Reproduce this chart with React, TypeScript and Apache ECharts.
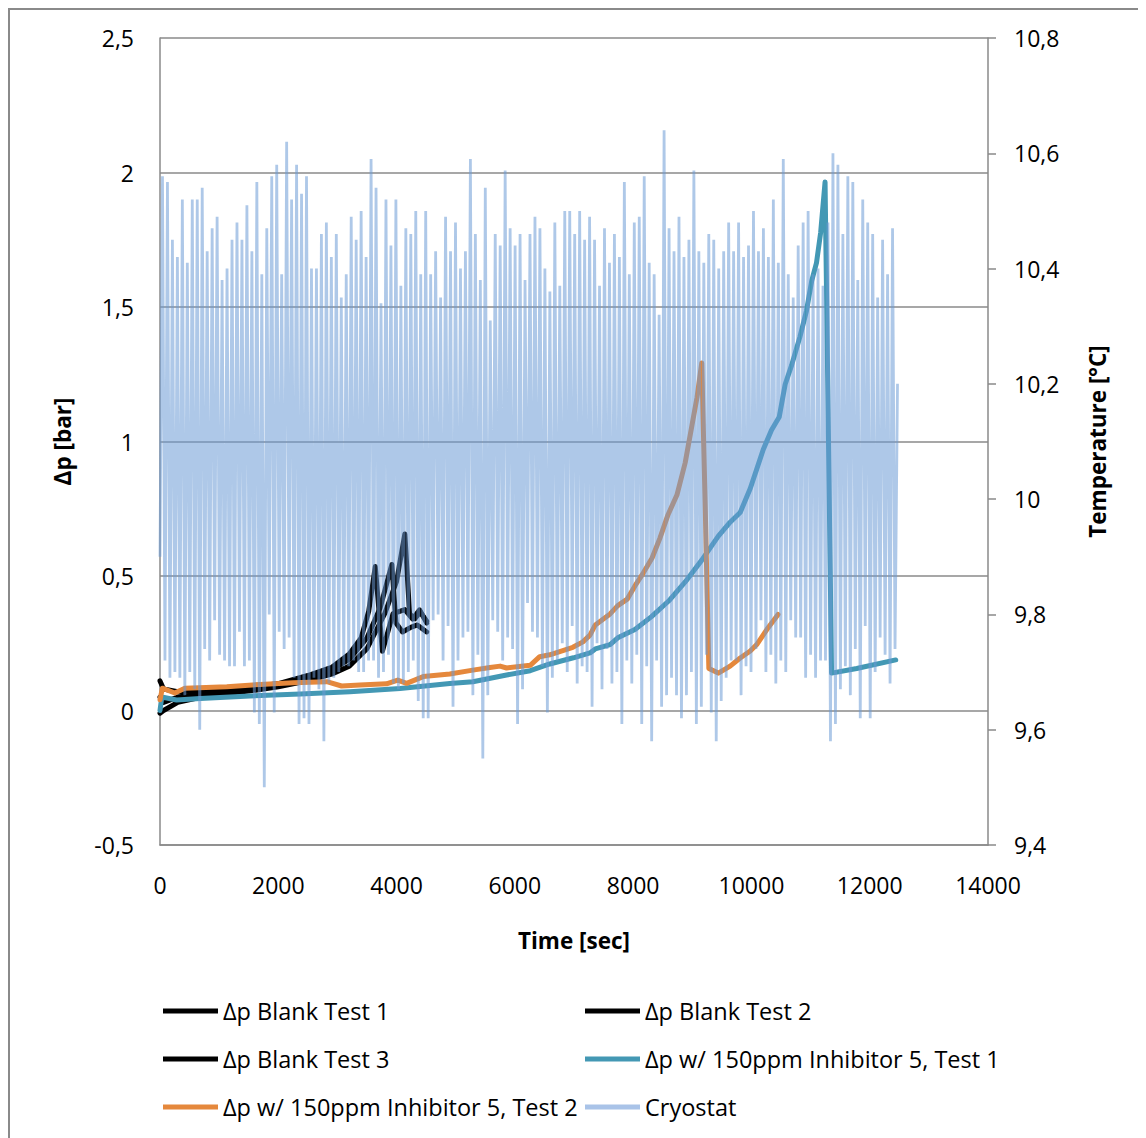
import React, { useEffect, useRef } from "react";
import * as echarts from "echarts";

// ---- data (time [s], Δp [bar]) ----
const blankTest1 = [
  [0, 0.11], [60, 0.08], [300, 0.07], [800, 0.075], [1500, 0.085], [2000, 0.1], [2500, 0.13],
  [2900, 0.16], [3200, 0.21], [3400, 0.27], [3530, 0.37], [3640, 0.535], [3760, 0.22],
  [3940, 0.36], [4140, 0.375], [4270, 0.34], [4390, 0.374], [4510, 0.325],
];
const blankTest2 = [
  [0, 0.05], [60, 0.03], [300, 0.05], [800, 0.065], [1500, 0.08], [2000, 0.095], [2500, 0.12],
  [2900, 0.15], [3200, 0.19], [3500, 0.27], [3720, 0.38], [3920, 0.543], [3990, 0.325],
  [4100, 0.292], [4240, 0.309], [4350, 0.318], [4510, 0.292],
];
const blankTest3 = [
  [0, -0.01], [60, 0.0], [300, 0.03], [800, 0.055], [1500, 0.072], [2000, 0.088], [2500, 0.11],
  [2900, 0.135], [3200, 0.165], [3500, 0.23], [3800, 0.36], [4000, 0.48], [4140, 0.656],
  [4220, 0.359], [4310, 0.341], [4400, 0.366], [4510, 0.332],
];
const inhibitorTest1 = [
  [0, 0.0], [30, 0.05], [280, 0.039], [680, 0.045], [1520, 0.054], [2370, 0.061], [3210, 0.07],
  [4060, 0.082], [4900, 0.1], [5290, 0.107], [5860, 0.132], [6260, 0.148], [6590, 0.173],
  [6990, 0.196], [7270, 0.214], [7360, 0.229], [7610, 0.245], [7740, 0.27], [8030, 0.301],
  [8310, 0.349], [8600, 0.407], [8880, 0.478], [9160, 0.559], [9440, 0.648], [9640, 0.7],
  [9810, 0.736], [9980, 0.825], [10200, 0.97], [10340, 1.043], [10470, 1.091], [10570, 1.212],
  [10680, 1.284], [10820, 1.389], [10930, 1.485], [11020, 1.598], [11100, 1.664], [11170, 1.776],
  [11245, 1.965], [11355, 0.139], [11780, 0.156], [12440, 0.188],
];
const inhibitorTest2 = [
  [0, 0.04], [40, 0.083], [250, 0.065], [420, 0.083], [1130, 0.088], [1690, 0.097], [2250, 0.103],
  [2820, 0.107], [3070, 0.091], [3380, 0.095], [3830, 0.099], [4020, 0.113], [4170, 0.101],
  [4450, 0.126], [4900, 0.136], [5290, 0.15], [5580, 0.16], [5750, 0.165], [5860, 0.158],
  [6260, 0.168], [6420, 0.2], [6590, 0.207], [6980, 0.235], [7150, 0.255], [7270, 0.28],
  [7360, 0.318], [7610, 0.359], [7740, 0.39], [7900, 0.414], [8030, 0.463], [8170, 0.511],
  [8320, 0.567], [8450, 0.639], [8590, 0.728], [8740, 0.801], [8880, 0.921], [9000, 1.067],
  [9080, 1.164], [9160, 1.292], [9220, 0.745], [9280, 0.156], [9440, 0.139], [9640, 0.165],
  [9810, 0.195], [9980, 0.221], [10090, 0.245], [10260, 0.301], [10450, 0.357],
];

// ---- cryostat temperature [°C]: alternating peaks / troughs ----
const cryoStart = 9.9;
const cryoEnd = 10.2;
const cryoEndTime = 12470;
const cryoPeaks = [
  10.56, 10.55, 10.45, 10.42, 10.52, 10.41, 10.52, 10.52, 10.54, 10.43, 10.47, 10.49, 10.38,
  10.40, 10.45, 10.48, 10.45, 10.51, 10.43, 10.55, 10.39, 10.47, 10.56, 10.58, 10.39, 10.62,
  10.52, 10.58, 10.53, 10.56, 10.40, 10.40, 10.46, 10.48, 10.42, 10.46, 10.35, 10.39, 10.49,
  10.45, 10.50, 10.42, 10.59, 10.54, 10.34, 10.52, 10.44, 10.52, 10.37, 10.47, 10.46, 10.50, 10.39,
  10.50, 10.39, 10.43, 10.35, 10.49, 10.43, 10.48, 10.40, 10.43, 10.59, 10.46, 10.38, 10.54,
  10.31, 10.46, 10.44, 10.57, 10.47, 10.44, 10.46, 10.38, 10.46, 10.49, 10.47, 10.40, 10.36,
  10.48, 10.37, 10.50, 10.50, 10.46,
  10.50, 10.45, 10.49, 10.45, 10.37, 10.47, 10.41, 10.46, 10.42, 10.55, 10.39, 10.48, 10.49,
  10.56, 10.41, 10.39, 10.32, 10.64, 10.47, 10.43, 10.49, 10.42, 10.45, 10.57, 10.43, 10.41,
  10.46, 10.45, 10.40, 10.43, 10.48,
  10.43, 10.48, 10.42, 10.44, 10.50, 10.43, 10.47, 10.42, 10.52, 10.41, 10.59, 10.39, 10.35,
  10.44, 10.48, 10.50, 10.39, 10.40, 10.37, 10.48, 10.60, 10.58, 10.46, 10.56, 10.55, 10.38,
  10.52, 10.48, 10.46, 10.35, 10.45, 10.39, 10.47,
];
const cryoTroughs = [
  9.72, 9.69, 9.70, 9.69, 9.66, 9.70, 9.67, 9.60, 9.74, 9.72, 9.79, 9.73, 9.72, 9.71, 9.71,
  9.77, 9.71, 9.72, 9.63, 9.61, 9.50, 9.80, 9.63, 9.77, 9.74, 9.76,
  9.69, 9.61, 9.62, 9.61, 9.69, 9.67, 9.58, 9.68, 9.69, 9.70, 9.71, 9.71, 9.72, 9.70, 9.70,
  9.72, 9.72, 9.69, 9.70, 9.73, 9.68, 9.67, 9.68, 9.70, 9.72, 9.65, 9.62,
  9.62, 9.79, 9.80, 9.72, 9.78, 9.64, 9.72, 9.76, 9.77, 9.66, 9.73, 9.55, 9.66, 9.79, 9.77,
  9.72, 9.76, 9.74, 9.61, 9.67, 9.82, 9.77, 9.76, 9.71, 9.63, 9.69, 9.72, 9.75, 9.70, 9.78, 9.68,
  9.71, 9.70, 9.64, 9.75, 9.67, 9.74, 9.68, 9.70, 9.61, 9.72, 9.68, 9.73, 9.61, 9.71, 9.58,
  9.72, 9.64, 9.66, 9.69, 9.66, 9.62, 9.66, 9.70, 9.61, 9.64, 9.73, 9.63, 9.58, 9.65, 9.69, 9.72,
  9.72, 9.66, 9.71, 9.70, 9.74, 9.79, 9.70, 9.73, 9.68, 9.72, 9.70, 9.79, 9.76, 9.76, 9.69,
  9.73, 9.69, 9.72, 9.72, 9.58, 9.61, 9.67, 9.71, 9.66, 9.74, 9.62, 9.78, 9.62, 9.70, 9.76,
  9.73, 9.68, 9.74,
];

const seriesNames = [
  "Δp Blank Test 1",
  "Δp Blank Test 2",
  "Δp Blank Test 3",
  "Δp w/ 150ppm Inhibitor 5, Test 1",
  "Δp w/ 150ppm Inhibitor 5, Test 2",
  "Cryostat",
];

const FONT = "Open Sans";

function buildCryo() {
  const vals: number[] = [cryoStart];
  const n = Math.min(cryoPeaks.length, cryoTroughs.length);
  for (let i = 0; i < n; i++) {
    vals.push(cryoPeaks[i]);
    vals.push(cryoTroughs[i]);
  }
  vals.push(cryoEnd);
  const step = cryoEndTime / (vals.length - 1);
  return vals.map((v, i) => [i * step, v]);
}

const fmtComma = (v: number) => String(Math.round(v * 10) / 10).replace(".", ",");
const fmtPlain = (v: number) => String(Math.round(v));

export default function App() {
  const ref = useRef<HTMLDivElement>(null);
  useEffect(() => {
    const chart = echarts.init(ref.current!, null, { renderer: "svg" });
    const pLine = (name: string, data: number[][], color: string, width: number) => ({
      name,
      type: "line",
      data,
      yAxisIndex: 0,
      showSymbol: false,
      symbol: "none",
      lineStyle: { color, width, cap: "round", join: "round" },
      itemStyle: { color },
      z: 2,
    });
    const gray = "#8a8a8a";
    const legendBase = {
      orient: "vertical",
      top: 990,
      padding: 0,
      icon: "rect",
      itemWidth: 55,
      itemHeight: 5,
      itemGap: 22,
      textStyle: { fontSize: 23.5, color: "#000", fontFamily: FONT, lineHeight: 26 },
    };
    const option = {
      animation: false,
      textStyle: { fontFamily: FONT },
      grid: { left: 152, right: 158, top: 30, bottom: 303 },
      xAxis: {
        type: "value",
        min: 0,
        max: 14000,
        interval: 2000,
        name: "Time [sec]",
        nameLocation: "middle",
        nameGap: 84,
        nameTextStyle: { fontFamily: FONT, fontWeight: "bold", fontSize: 22.5, color: "#000" },
        axisLine: { show: true, onZero: false, lineStyle: { color: gray, width: 1.5 } },
        axisTick: { show: false },
        splitLine: { show: false },
        axisLabel: { color: "#000", fontSize: 23, margin: 28, fontFamily: FONT, formatter: fmtPlain },
      },
      yAxis: [
        {
          type: "value",
          min: -0.5,
          max: 2.5,
          interval: 0.5,
          name: "Δp [bar]",
          nameLocation: "middle",
          nameRotate: 90,
          nameGap: 86,
          nameTextStyle: { fontFamily: FONT, fontWeight: "bold", fontSize: 22.5, color: "#000" },
          axisLine: { show: true, lineStyle: { color: gray, width: 1.5 } },
          axisTick: { show: false },
          splitLine: { show: true, lineStyle: { color: gray, width: 1.5 } },
          axisLabel: { color: "#000", fontSize: 23, margin: 26, formatter: fmtComma, fontFamily: FONT },
        },
        {
          type: "value",
          min: 9.4,
          max: 10.8,
          interval: 0.2,
          position: "right",
          name: "Temperature [°C]",
          nameLocation: "middle",
          nameRotate: 90,
          nameGap: 98,
          nameTextStyle: { fontFamily: FONT, fontWeight: "bold", fontSize: 22.5, color: "#000" },
          axisLine: { show: true, lineStyle: { color: gray, width: 1.5 } },
          axisTick: { show: true, inside: false, length: 8, lineStyle: { color: gray, width: 1.5 } },
          splitLine: { show: false },
          axisLabel: { color: "#000", fontSize: 23, margin: 26, formatter: fmtComma, fontFamily: FONT },
        },
      ],
      legend: [
        { ...legendBase, left: 155, data: [seriesNames[0], seriesNames[2], seriesNames[4]] },
        { ...legendBase, left: 577, data: [seriesNames[1], seriesNames[3], seriesNames[5]] },
      ],
      series: [
        pLine(seriesNames[0], blankTest1, "#000000", 5),
        pLine(seriesNames[1], blankTest2, "#000000", 5),
        pLine(seriesNames[2], blankTest3, "#000000", 5),
        pLine(seriesNames[3], inhibitorTest1, "#4398b4", 5),
        pLine(seriesNames[4], inhibitorTest2, "#e5883c", 5),
        {
          name: seriesNames[5],
          type: "line",
          yAxisIndex: 1,
          data: buildCryo(),
          showSymbol: false,
          symbol: "none",
          lineStyle: { color: "#6b9ad6", width: 2.8, opacity: 0.55 },
          itemStyle: { color: "#a9c3e8" },
          z: 3,
        },
      ],
    };
    chart.setOption(option as any);
    return () => chart.dispose();
  }, []);
  return (
    <div style={{ position: "relative", width: 1138, height: 1140 }}>
      <div ref={ref} style={{ position: "absolute", left: 0, top: 0, width: 1138, height: 1140 }} />
      <div
        style={{
          position: "absolute",
          left: 0,
          top: 0,
          width: 1138,
          height: 1140,
          boxSizing: "border-box",
          border: "2px solid #8a8a8a",
          pointerEvents: "none",
        }}
      />
    </div>
  );
}
